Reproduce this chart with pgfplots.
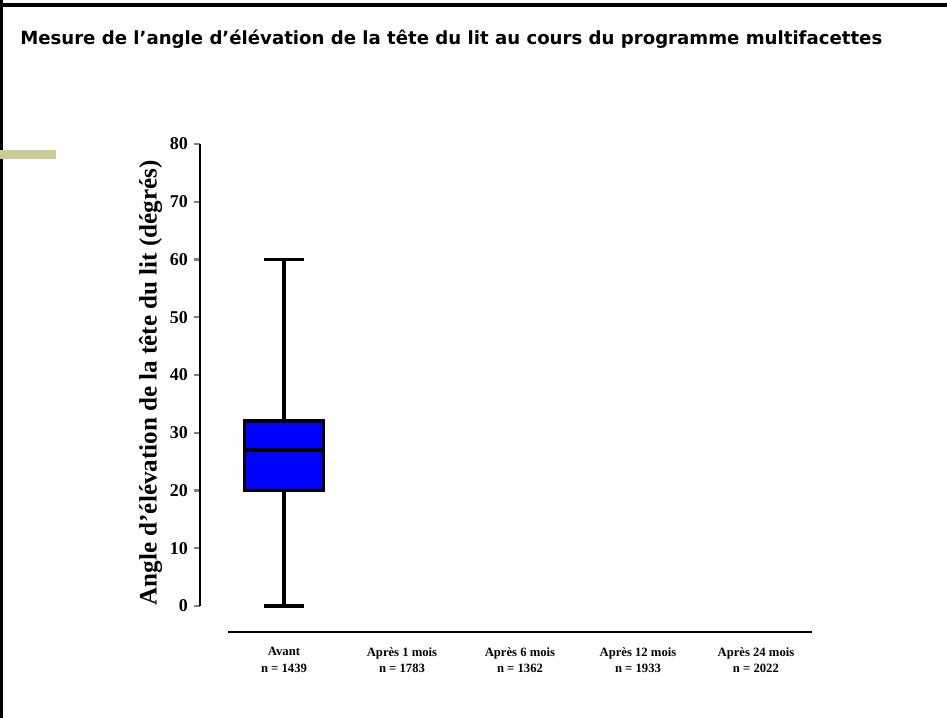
\documentclass[border=0pt]{standalone}
\usepackage{fontspec}
\setmainfont{Liberation Serif}
\newfontfamily\titlefont{DejaVu Sans}
\usepackage{pgfplots}
\pgfplotsset{compat=1.18}
\usepgfplotslibrary{statistics}
\definecolor{olivebar}{RGB}{204,204,153}
\begin{document}
\begin{tikzpicture}[x=0.75pt,y=0.75pt]
\path[use as bounding box,fill=white] (0,0) rectangle (947,718);
% slide frame
\draw[line width=2.6pt,black] (0,713) -- (947,713);
\draw[line width=2.2pt,black] (1.5,0) -- (1.5,718);
\fill[olivebar] (0,559) rectangle (56,568);
\node[anchor=base west,inner sep=0pt] at (20,673) {\titlefont\bfseries\fontsize{13.6}{16}\selectfont Mesure de l’angle d’élévation de la tête du lit au cours du programme multifacettes};
\begin{axis}[
  at={(150pt,84pt)}, anchor=south west,
  scale only axis, width=459pt, height=346.5pt,
  xmin=-0.712, xmax=4.475, ymin=0, ymax=80,
  clip=false,
  axis lines=left,
  axis line style={-, line width=1.8pt},
  x axis line style={draw=none},
  xtick={0,1,2,3,4},
  xticklabels={{Avant\\n = 1439},{Après 1 mois\\n = 1783},{Après 6 mois\\n = 1362},{Après 12 mois\\n = 1933},{Après 24 mois\\n = 2022}},
  xtick style={draw=none},
  xticklabel style={align=center, yshift=-23pt, font=\bfseries\fontsize{9.5}{12.5}\selectfont},
  ytick={0,10,...,80},
  tick align=outside,
  major tick length=4.5pt,
  ytick style={line width=1.6pt},
  /pgf/number format/assume math mode=true,
  yticklabel style={font=\bfseries\fontsize{13.5}{13.5}\selectfont, xshift=-1pt},
  ylabel={Angle d\symbol{39}élévation de la tête du lit (dégrés)},
  ylabel style={font=\bfseries\fontsize{18.8}{19}\selectfont, at={(ticklabel cs:0.483)}, yshift=-1pt},
  boxplot/draw direction=y,
  boxplot/box extend=0.67,
  boxplot/whisker extend=0.34,
  boxplot/every whisker/.style={line width=2.3pt, draw=black},
  boxplot/draw/box/.code={%
    \draw[line width=2.6pt, draw=black, fill=blue]
      (boxplot box cs:\pgfplotsboxplotvalue{lower quartile},0) rectangle
      (boxplot box cs:\pgfplotsboxplotvalue{upper quartile},1);},
  boxplot/draw/median/.code={%
    \draw[line width=2.6pt, draw=black]
      (boxplot box cs:\pgfplotsboxplotvalue{median},0) --
      (boxplot box cs:\pgfplotsboxplotvalue{median},1);},
]
\addplot[line width=2.3pt, fill=blue, draw=black,
  boxplot prepared={draw position=0, lower whisker=0, lower quartile=20, median=27, upper quartile=32, upper whisker=60}]
  coordinates {};
\draw[line width=2.2pt] (axis cs:-0.475,-4.5) -- (axis cs:4.475,-4.5);
\end{axis}
\end{tikzpicture}
\end{document}
